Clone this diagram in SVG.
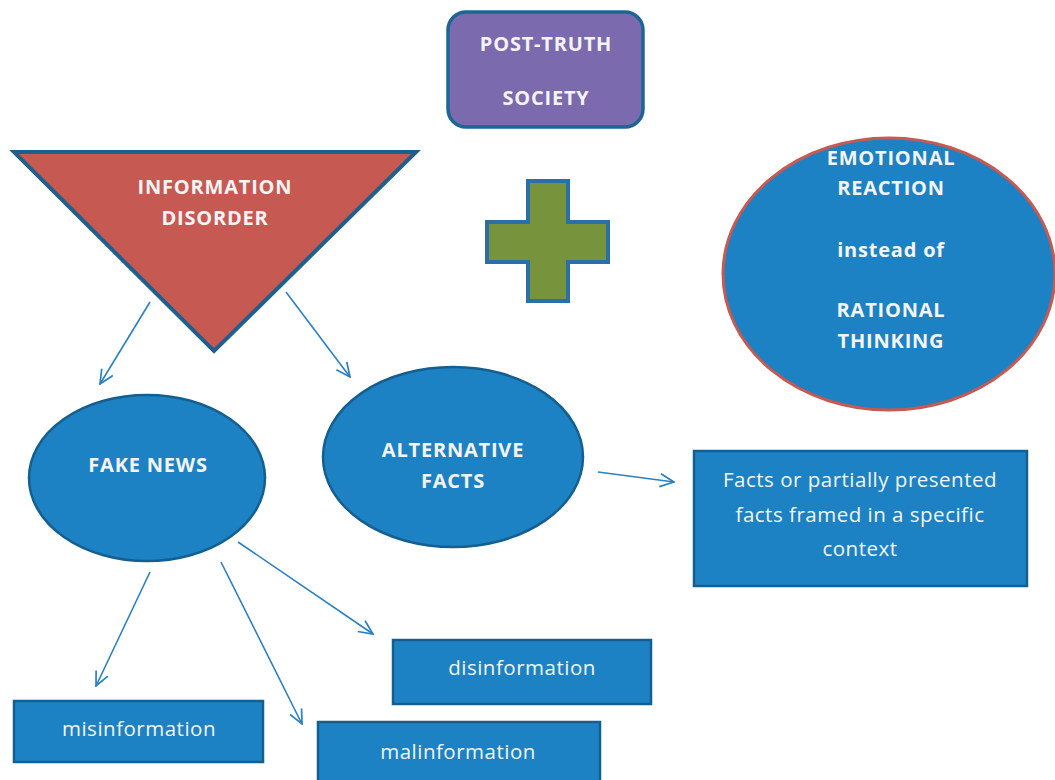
<svg xmlns="http://www.w3.org/2000/svg" width="1055" height="780" viewBox="0 0 1055 780">
<defs>
<marker id="arr" viewBox="0 0 16 16" refX="15" refY="8" markerWidth="16" markerHeight="16" markerUnits="userSpaceOnUse" orient="auto">
<path d="M1,1.5 L15,8 L1,14.5" fill="none" stroke="#2a80c2" stroke-width="1.7"/>
</marker>
<style>
.t{font-family:"Open Sans","Noto Sans","Liberation Sans",sans-serif;fill:#f4f4f4;text-anchor:middle}
.b{font-weight:bold;font-size:20px;letter-spacing:0.8px}
.r{font-size:20.5px;letter-spacing:0.5px}
.box{fill:#1c82c3;stroke:#155f90;stroke-width:2.5}
.con{stroke:#2a80c2;stroke-width:1.6;fill:none;marker-end:url(#arr)}
</style>
</defs>
<rect width="1055" height="780" fill="#ffffff"/>
<g id="post-truth">
<rect x="448" y="12" width="195" height="115" rx="18" fill="#7b6aae" stroke="#1d6595" stroke-width="3.5"/>
<text class="t b" x="546" y="51">POST-TRUTH</text>
<text class="t b" x="546" y="105">SOCIETY</text>
</g>
<g id="information-disorder">
<polygon points="14,152 416,152 214,351" fill="#c65a52" stroke="#1e5f8c" stroke-width="4" stroke-linejoin="miter"/>
<text class="t b" x="215" y="194">INFORMATION</text>
<text class="t b" x="215" y="225">DISORDER</text>
</g>
<g id="plus">
<polygon points="528,181 568,181 568,222 608,222 608,262 568,262 568,301 528,301 528,262 487,262 487,222 528,222" fill="#77933c" stroke="#2a6fa5" stroke-width="4"/>
</g>
<g id="emotional">
<ellipse cx="889" cy="274" rx="166" ry="136" fill="#1c82c3" stroke="#c65a52" stroke-width="3"/>
<text class="t b" x="891" y="165">EMOTIONAL</text>
<text class="t b" x="891" y="195">REACTION</text>
<text class="t b" x="891" y="257">instead of</text>
<text class="t b" x="891" y="317">RATIONAL</text>
<text class="t b" x="891" y="348">THINKING</text>
</g>
<g id="fake-news">
<ellipse cx="147" cy="478" rx="118" ry="83" fill="#1c82c3" stroke="#155f90" stroke-width="2.5"/>
<text class="t b" x="148" y="472">FAKE NEWS</text>
</g>
<g id="alternative-facts">
<ellipse cx="453" cy="457" rx="130" ry="90" fill="#1c82c3" stroke="#155f90" stroke-width="2.5"/>
<text class="t b" x="453" y="457">ALTERNATIVE</text>
<text class="t b" x="453" y="488">FACTS</text>
</g>
<g id="facts-box">
<rect class="box" x="694" y="451" width="333" height="135"/>
<text class="t r" x="860" y="487">Facts or partially presented</text>
<text class="t r" x="860" y="522">facts framed in a specific</text>
<text class="t r" x="860" y="556">context</text>
</g>
<g id="disinformation">
<rect class="box" x="393" y="640" width="258" height="64"/>
<text class="t r" x="522" y="675">disinformation</text>
</g>
<g id="misinformation">
<rect class="box" x="14" y="701" width="249" height="61"/>
<text class="t r" x="139" y="736">misinformation</text>
</g>
<g id="malinformation">
<rect class="box" x="318" y="722" width="282" height="64"/>
<text class="t r" x="458" y="759">malinformation</text>
</g>
<g id="connectors">
<line class="con" x1="150" y1="302" x2="100" y2="384"/>
<line class="con" x1="286" y1="292" x2="350" y2="377"/>
<line class="con" x1="598" y1="472" x2="674" y2="482"/>
<line class="con" x1="150" y1="572" x2="96" y2="686"/>
<line class="con" x1="221" y1="562" x2="302" y2="724"/>
<line class="con" x1="238" y1="542" x2="373" y2="634"/>
</g>
</svg>
